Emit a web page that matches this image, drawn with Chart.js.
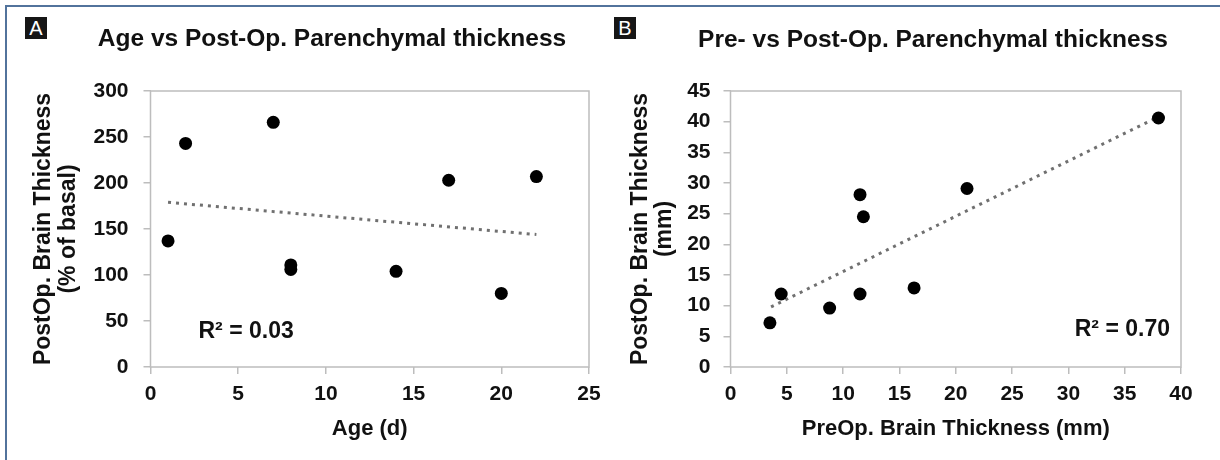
<!DOCTYPE html>
<html>
<head>
<meta charset="utf-8">
<script src="https://cdn.jsdelivr.net/npm/chart.js@4.4.1/dist/chart.umd.min.js"></script>
<style>
html, body { margin: 0; padding: 0; background: #fff; }
body { width: 1220px; height: 460px; position: relative; overflow: hidden; font-family: 'Liberation Sans', Arial, sans-serif; }
#frame { position: absolute; left: 5px; top: 5px; width: 1215px; height: 455px; border-top: 2px solid #52739c; border-left: 2px solid #52739c; box-sizing: border-box; }
.tag { position: absolute; top: 17px; width: 22px; height: 22px; background: #161616; color: #fff; font-size: 20px; line-height: 23px; text-align: center; }
.ttl { position: absolute; width: 500px; font-weight: bold; font-size: 24.5px; line-height: 24px; text-align: center; color: #111; white-space: nowrap; }
canvas { position: absolute; top: 0; }
</style>
</head>
<body>
<div id="frame"></div>
<canvas id="chartA" width="610" height="460" style="left:0"></canvas>
<canvas id="chartB" width="610" height="460" style="left:610px"></canvas>
<div class="tag" style="left:25px">A</div>
<div class="tag" style="left:614px">B</div>
<div class="ttl" style="left:82px;top:26px">Age vs Post-Op. Parenchymal thickness</div>
<div class="ttl" style="left:683px;top:27px">Pre- vs Post-Op. Parenchymal thickness</div>
<script>
// panel A: age vs post-op thickness (% of basal)
var ageDays = [1, 2, 7, 8, 8, 14, 17, 20, 22];
var postOpPct = [137, 243, 266, 111, 106, 104, 203, 80, 207];
var trendAgeX = [1, 22];
var trendAgeY = [179, 144];
var r2A = '0.03';

// panel B: pre-op vs post-op thickness (mm)
var preOpMm = [3.5, 4.5, 8.8, 11.5, 11.8, 11.5, 16.3, 21.0, 38.0];
var postOpMm = [7.2, 11.9, 9.6, 28.1, 24.5, 11.9, 12.9, 29.1, 40.6];
var trendPreX = [3.6, 38];
var trendPreY = [9.8, 40.8];
var r2B = '0.70';

var FONT = "'Liberation Sans', Arial, sans-serif";
Chart.defaults.font.family = FONT;
Chart.defaults.color = '#111';

function pts(xs, ys) {
  var out = [];
  for (var i = 0; i < xs.length; i++) out.push({x: xs[i], y: ys[i]});
  return out;
}

var boxAndNote = {
  id: 'boxAndNote',
  beforeDatasetsDraw: function(chart) {
    var a = chart.chartArea, ctx = chart.ctx;
    ctx.save();
    ctx.strokeStyle = '#bdbdbd';
    ctx.lineWidth = 1.5;
    ctx.strokeRect(a.left, a.top, a.right - a.left, a.bottom - a.top);
    ctx.restore();
  },
  afterDatasetsDraw: function(chart, args, opts) {
    var a = chart.chartArea, ctx = chart.ctx;
    ctx.save();
    ctx.font = 'bold 23px ' + FONT;
    ctx.fillStyle = '#111';
    ctx.textAlign = opts.align;
    ctx.textBaseline = 'alphabetic';
    var x = opts.align === 'left' ? a.left + opts.dx : a.right - opts.dx;
    ctx.fillText(opts.text, x, a.bottom - opts.dy);
    ctx.restore();
  }
};

function makeChart(id, cfg) {
  return new Chart(document.getElementById(id), {
    type: 'scatter',
    data: {
      datasets: [
        { data: pts(cfg.xs, cfg.ys), backgroundColor: '#000', borderWidth: 0, pointRadius: 6.5, order: 0 },
        { data: pts(cfg.tx, cfg.ty), showLine: true, pointRadius: 0, borderColor: '#707070',
          borderWidth: 3, borderDash: [3, 5], order: 1 }
      ]
    },
    options: {
      responsive: false,
      animation: false,
      layout: { padding: { left: cfg.padL, right: cfg.padR, top: cfg.padT, bottom: 0 } },
      plugins: {
        legend: { display: false },
        tooltip: { enabled: false },
        boxAndNote: cfg.note
      },
      scales: {
        x: {
          min: cfg.xMin, max: cfg.xMax,
          afterFit: function(s) { s.height = cfg.xH; },
          border: { display: false },
          grid: { drawOnChartArea: false, color: '#bdbdbd', lineWidth: 1.5, tickLength: 7 },
          ticks: { stepSize: cfg.xStep, padding: 8, font: { size: 21, weight: 'bold' }, color: '#111' },
          title: { display: true, text: cfg.xTitle, font: { size: 22, weight: 'bold', lineHeight: 1.1 },
                   padding: { top: 0, bottom: 19 }, color: '#111' }
        },
        y: {
          min: cfg.yMin, max: cfg.yMax,
          afterFit: function(s) { s.width = cfg.yW; },
          border: { display: false },
          grid: { drawOnChartArea: false, color: '#bdbdbd', lineWidth: 1.5, tickLength: 7 },
          ticks: { stepSize: cfg.yStep, padding: cfg.yPad, font: { size: 21, weight: 'bold' }, color: '#111' },
          title: { display: true, text: cfg.yTitle, font: { size: 23, weight: 'bold', lineHeight: 1.05 },
                   padding: { top: 0, bottom: 0 }, color: '#111' }
        }
      }
    },
    plugins: [boxAndNote]
  });
}

makeChart('chartA', {
  xs: ageDays, ys: postOpPct, tx: trendAgeX, ty: trendAgeY,
  xMin: 0, xMax: 25, xStep: 5, xTitle: 'Age (d)',
  yMin: 0, yMax: 300, yStep: 50, yTitle: ['PostOp. Brain Thickness', '(% of basal)'],
  padL: 32, padR: 21, padT: 91, xH: 93, yW: 118.5, yPad: 15,
  note: { text: 'R\u00b2 = ' + r2A, align: 'left', dx: 48, dy: 29 }
});

makeChart('chartB', {
  xs: preOpMm, ys: postOpMm, tx: trendPreX, ty: trendPreY,
  xMin: 0, xMax: 40, xStep: 5, xTitle: 'PreOp. Brain Thickness (mm)',
  yMin: 0, yMax: 45, yStep: 5, yTitle: ['PostOp. Brain Thickness', '(mm)'],
  padL: 18.5, padR: 39, padT: 91, xH: 93, yW: 102, yPad: 13,
  note: { text: 'R\u00b2 = ' + r2B, align: 'right', dx: 11, dy: 31 }
});
</script>
</body>
</html>
